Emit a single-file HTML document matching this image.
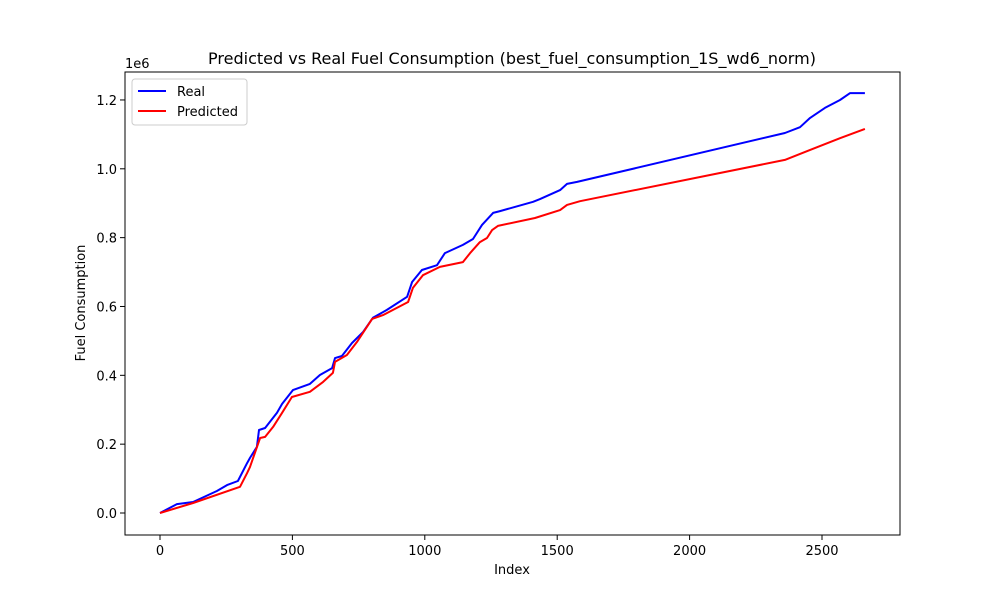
<!DOCTYPE html>
<html><head><meta charset="utf-8"><style>
body{margin:0;background:#fff}
svg text{font-family:"DejaVu Sans","Liberation Sans",sans-serif;fill:#000}
</style></head><body>
<svg width="1000" height="600" viewBox="0 0 1000 600">
<rect width="1000" height="600" fill="#fff"/>
<text x="512" y="64" font-size="16" text-anchor="middle">Predicted vs Real Fuel Consumption (best_fuel_consumption_1S_wd6_norm)</text>
<g id="axes"></g>
<g id="lines"></g>
<rect x="125" y="72" width="775" height="463" fill="none" stroke="#000" stroke-width="1"/>
<text x="125" y="68" font-size="13">1e6</text>
<text x="512" y="574" font-size="13" text-anchor="middle">Index</text>
<text transform="translate(85,303) rotate(-90)" font-size="13" text-anchor="middle">Fuel Consumption</text>
<g>
<rect x="132" y="79" width="115" height="46" rx="3" fill="#fff" fill-opacity="0.8" stroke="#ccc"/>
<line x1="138" y1="91" x2="166" y2="91" stroke="#0000ff" stroke-width="2"/>
<text x="177" y="96" font-size="13">Real</text>
<line x1="138" y1="111" x2="166" y2="111" stroke="#ff0000" stroke-width="2"/>
<text x="177" y="116" font-size="13">Predicted</text>
</g>
</svg>
<script>
const realIdx=[0,64,125,215,253,294,329,340,366,374,397,442,461,502,566,604,650,661,687,725,767,804,857,933,952,989,1046,1076,1144,1182,1216,1258,1284,1409,1435,1511,1537,1575,2360,2417,2455,2511,2568,2606,2662];
const realVal=[0,0.026,0.032,0.064,0.081,0.093,0.145,0.160,0.192,0.241,0.247,0.291,0.317,0.357,0.375,0.401,0.421,0.450,0.456,0.494,0.526,0.567,0.590,0.628,0.671,0.706,0.720,0.755,0.779,0.796,0.837,0.872,0.877,0.904,0.912,0.938,0.956,0.962,1.104,1.121,1.148,1.177,1.200,1.220,1.220];
const predIdx=[0,125,302,329,340,378,397,427,461,498,566,616,653,661,706,744,801,842,937,955,993,1057,1144,1171,1208,1235,1254,1276,1416,1511,1537,1586,2360,2455,2568,2662];
const predVal=[0,0.029,0.076,0.116,0.134,0.218,0.221,0.250,0.291,0.337,0.352,0.381,0.407,0.439,0.459,0.497,0.564,0.575,0.613,0.654,0.691,0.715,0.729,0.755,0.787,0.799,0.822,0.834,0.857,0.880,0.895,0.906,1.026,1.055,1.089,1.116];
const xTicks=[0,500,1000,1500,2000,2500];
const yTicks=[0,0.2,0.4,0.6,0.8,1.0,1.2];
const yTickLabels=["0.0","0.2","0.4","0.6","0.8","1.0","1.2"];
const NS="http://www.w3.org/2000/svg";
const xs=v=>160+v*0.2648;
const ys=v=>513-v*344.2;
const axes=document.getElementById('axes');
xTicks.forEach(t=>{
  const l=document.createElementNS(NS,'line');
  l.setAttribute('x1',xs(t));l.setAttribute('x2',xs(t));l.setAttribute('y1',535);l.setAttribute('y2',540);l.setAttribute('stroke','#000');
  
  
  axes.appendChild(l);
  const tx=document.createElementNS(NS,'text');
  tx.setAttribute('x',xs(t));tx.setAttribute('y',555);tx.setAttribute('font-size','13');tx.setAttribute('text-anchor','middle');tx.textContent=t;
  
  
  axes.appendChild(tx);
});
yTicks.forEach((t,i)=>{
  const l=document.createElementNS(NS,'line');
  l.setAttribute('x1',120);l.setAttribute('x2',125);l.setAttribute('y1',ys(t));l.setAttribute('y2',ys(t));l.setAttribute('stroke','#000');
  
  
  axes.appendChild(l);
  const tx=document.createElementNS(NS,'text');
  tx.setAttribute('x',117);tx.setAttribute('y',ys(t)+5);tx.setAttribute('font-size','13');tx.setAttribute('text-anchor','end');tx.textContent=yTickLabels[i];
  
  
  axes.appendChild(tx);
});
const lines=document.getElementById('lines');
function draw(idx,val,color,name){
  const p=document.createElementNS(NS,'polyline');
  p.setAttribute('points',idx.map((x,i)=>xs(x).toFixed(1)+','+ys(val[i]).toFixed(1)).join(' '));
  p.setAttribute('fill','none');p.setAttribute('stroke',color);p.setAttribute('stroke-width','2');p.setAttribute('stroke-linejoin','round');
  
  
  lines.appendChild(p);
}
draw(realIdx,realVal,'#0000ff','real-line');
draw(predIdx,predVal,'#ff0000','predicted-line');
</script>
</body></html>
